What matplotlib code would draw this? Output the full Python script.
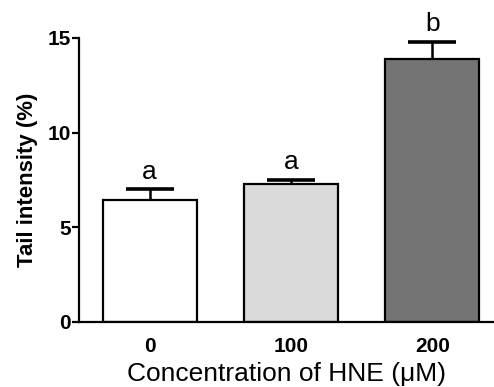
import matplotlib
matplotlib.use("Agg")
import matplotlib.pyplot as plt

categories = ["0", "100", "200"]
means = [6.45, 7.3, 13.9]
errors = [0.55, 0.22, 0.9]
letters = ["a", "a", "b"]
colors = ["#ffffff", "#dadada", "#747474"]

plt.rcParams['font.family'] = ['Liberation Sans', 'DejaVu Sans']

fig = plt.figure(figsize=(4.94, 3.87), dpi=100)
ax = fig.add_axes([0.16, 0.168, 0.838, 0.734])

x = list(range(len(categories)))
ax.bar(x, means, width=0.665, color=colors, edgecolor="black", linewidth=1.6, zorder=2)
for xi, m, e, lab in zip(x, means, errors, letters):
    line, caps, bars = ax.errorbar([xi], [m], yerr=[[0], [e]], fmt="none", ecolor="black",
                                   elinewidth=1.8, capsize=17, capthick=2.6, zorder=3)
    caps[0].set_visible(False)
    ax.annotate(lab, (xi, m + e), xytext=(0, 4), textcoords="offset points",
                ha="center", va="bottom", fontsize=19)

ax.set_xlim(-0.5, 2.43)
ax.set_ylim(0, 15)
ax.set_yticks([0, 5, 10, 15])
ax.set_xticks(x)
ax.set_xticklabels(categories)
for lbl in ax.get_xticklabels() + ax.get_yticklabels():
    lbl.set_fontweight("bold")
ax.tick_params(axis="y", length=5, width=1.6, labelsize=15, pad=1)
ax.tick_params(axis="x", length=0, labelsize=15, pad=11)
for s in ["top", "right"]:
    ax.spines[s].set_visible(False)
for s in ["left", "bottom"]:
    ax.spines[s].set_linewidth(1.6)

ax.set_ylabel("Tail intensity (%)", fontsize=16, fontweight="bold", labelpad=7)
ax.set_xlabel("Concentration of HNE (\u03bcM)", fontsize=19, labelpad=4)

fig.savefig("out.png", dpi=100)
